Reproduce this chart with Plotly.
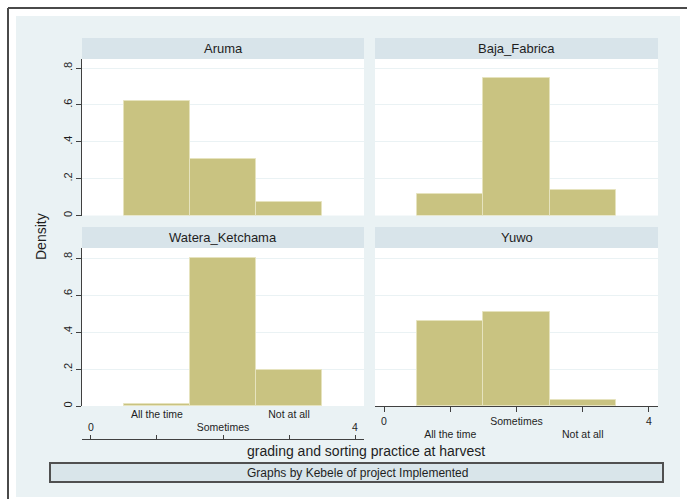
import plotly.graph_objects as go

# ---- data ----
categories = ["All the time", "Sometimes", "Not at all"]
codes = [1, 2, 3]
panels = ["Aruma", "Baja_Fabrica", "Watera_Ketchama", "Yuwo"]
aruma = [0.62, 0.306, 0.072]
baja_fabrica = [0.115, 0.745, 0.138]
watera_ketchama = [0.012, 0.798, 0.192]
yuwo = [0.461, 0.51, 0.032]
ytick_vals = [0, 0.2, 0.4, 0.6, 0.8]
ytick_text = ["0", ".2", ".4", ".6", ".8"]
xtick_vals = [0, 1, 2, 3, 4]

W, H = 687, 499
def fx(px):
    return px / W
def fy(py):
    return 1 - py / H

BAR = "#C9C381"
BAR_EDGE = "#E6E3BE"
LIGHT = "#EAF2F4"
STRIP = "#D8E4EA"
GRID = "#EAF2F4"
AXIS = "#404040"
TXT = "#1e1e1e"
FONT = "Liberation Sans"

series = [aruma, baja_fabrica, watera_ketchama, yuwo]
col_px = [(82, 364), (375, 658)]
row_px = [(59, 215.5), (248, 406)]
strip_px = [(38, 59), (227, 248)]
xrange_ = [-0.136, 4.136]

fig = go.Figure()
for i, vals in enumerate(series):
    n = "" if i == 0 else str(i + 1)
    fig.add_trace(go.Bar(
        x=codes, y=vals, width=1,
        marker=dict(color=BAR, line=dict(color=BAR_EDGE, width=1)),
        xaxis="x" + n, yaxis="y" + n, showlegend=False, hoverinfo="y"))

# invisible trace for the detached axis line under Watera_Ketchama
fig.add_trace(go.Scatter(x=[None], y=[None], xaxis="x5", yaxis="y3",
                         showlegend=False, hoverinfo="skip"))

layout = dict(
    width=W, height=H, margin=dict(l=0, r=0, t=0, b=0),
    paper_bgcolor="white", plot_bgcolor="white",
    font=dict(family=FONT, color=TXT), bargap=0,
)

def yt(cat_list, stagger_first):
    out = []
    labels = ["0"] + cat_list + ["4"]
    for k, lab in enumerate(labels):
        first_row = (k % 2 == 0) == stagger_first
        out.append(lab if first_row else "<br>" + lab)
    return out

shapes = []
annotations = []
for i in range(4):
    r, c = divmod(i, 2)
    n = "" if i == 0 else str(i + 1)
    xd = [fx(col_px[c][0]), fx(col_px[c][1])]
    ydm = [fy(row_px[r][1]), fy(row_px[r][0])]
    ymax = 0.8 * (row_px[r][1] - row_px[r][0]) / ((row_px[r][1] - (68 if r == 0 else 258)))
    xa = dict(domain=xd, range=xrange_, anchor="y" + n, showgrid=False,
              zeroline=False, showline=False, ticks="", showticklabels=False,
              fixedrange=True)
    ya = dict(domain=ydm, range=[0, ymax], anchor="x" + n, showgrid=True,
              gridcolor=GRID, gridwidth=1, zeroline=False,
              tickvals=ytick_vals, ticktext=ytick_text, fixedrange=True)
    if c == 0:
        ya.update(showline=True, linecolor=AXIS, linewidth=1, ticks="outside",
                  ticklen=5, tickcolor=AXIS, tickangle=-90,
                  tickfont=dict(size=11, color=TXT), showticklabels=True)
    else:
        ya.update(showline=False, ticks="", showticklabels=False)
    if i == 3:
        xa.update(showline=True, linecolor=AXIS, linewidth=1, ticks="outside",
                  ticklen=5, tickcolor=AXIS, showticklabels=True,
                  tickvals=xtick_vals, ticktext=yt(categories, True),
                  tickfont=dict(size=10.5, color=TXT), tickangle=0)
    if i == 2:
        xa.update(showticklabels=True, tickvals=xtick_vals,
                  ticktext=yt(categories, False),
                  tickfont=dict(size=10.5, color=TXT), tickangle=0)
    layout["xaxis" + n] = xa
    layout["yaxis" + n] = ya
    # white plot area
    shapes.append(dict(type="rect", xref="x" + n + " domain", yref="y" + n + " domain",
                       x0=0, x1=1, y0=0, y1=1, fillcolor="white",
                       line=dict(width=0), layer="below"))
    # strip
    shapes.append(dict(type="rect", xref="paper", yref="paper",
                       x0=xd[0], x1=xd[1], y0=fy(strip_px[r][1]), y1=fy(strip_px[r][0]),
                       fillcolor=STRIP, line=dict(width=0), layer="below"))
    annotations.append(dict(text=panels[i], xref="paper", yref="paper",
                            x=(xd[0] + xd[1]) / 2, y=(fy(strip_px[r][0]) + fy(strip_px[r][1])) / 2,
                            xanchor="center", yanchor="middle", showarrow=False,
                            font=dict(size=13, color=TXT)))

layout["xaxis5"] = dict(overlaying="x3", anchor="free", position=fy(439),
                        range=xrange_, showline=True, linecolor=AXIS, linewidth=1,
                        ticks="inside", ticklen=4, tickcolor=AXIS,
                        tickvals=xtick_vals, showticklabels=False, showgrid=False,
                        zeroline=False, fixedrange=True)

# background + frame (drawn first)
bg = [
    dict(type="rect", xref="paper", yref="paper", x0=fx(16), x1=fx(680), y0=fy(497), y1=fy(16),
         fillcolor=LIGHT, line=dict(width=0), layer="below"),
    dict(type="line", xref="paper", yref="paper", x0=fx(8), x1=fx(8), y0=fy(505), y1=fy(8),
         line=dict(color="#4a4a4a", width=2), layer="below"),
    dict(type="line", xref="paper", yref="paper", x0=fx(8), x1=fx(700), y0=fy(8), y1=fy(8),
         line=dict(color="#4a4a4a", width=2), layer="below"),
    dict(type="rect", xref="paper", yref="paper", x0=fx(50), x1=fx(663), y0=fy(482), y1=fy(463),
         fillcolor="#D9E5EA", line=dict(color="#505050", width=2), layer="below"),
]
layout["shapes"] = bg + shapes

annotations += [
    dict(text="Graphs by Kebele of project Implemented", xref="paper", yref="paper",
         x=fx(357), y=fy(472.5), xanchor="center", yanchor="middle", showarrow=False,
         font=dict(size=12, color=TXT)),
    dict(text="grading and sorting practice at harvest", xref="paper", yref="paper",
         x=fx(366), y=fy(451), xanchor="center", yanchor="middle", showarrow=False,
         font=dict(size=14, color=TXT)),
    dict(text="Density", xref="paper", yref="paper", x=fx(41), y=fy(237),
         xanchor="center", yanchor="middle", showarrow=False, textangle=-90,
         font=dict(size=14, color=TXT)),
]
layout["annotations"] = annotations

fig.update_layout(**layout)
fig.write_html("out.html", config={"displayModeBar": False},
               post_script="document.body.style.margin='0';document.body.style.overflow='hidden';")
